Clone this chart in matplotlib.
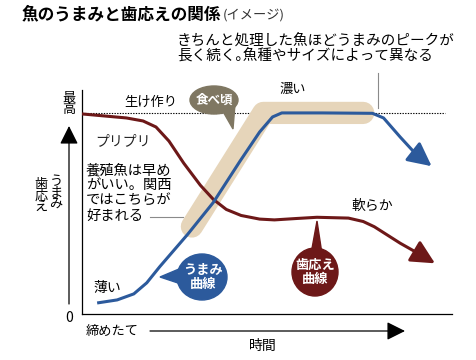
import matplotlib
matplotlib.use("Agg")
import matplotlib.pyplot as plt
from matplotlib.patches import Ellipse, Polygon

plt.rcParams["font.family"] = ["Noto Sans CJK JP", "DejaVu Sans"]

# ---- data (time 0..10, level 0..1, 1 = 最高) ----
umami_t = [0.45, 0.95, 1.4, 1.75, 2.1, 2.85, 3.55, 4.27, 4.8, 5.15, 5.4, 6.5, 7.85, 8.15, 8.6, 9.0]
umami_v = [0.056, 0.07, 0.10, 0.155, 0.235, 0.395, 0.555, 0.76, 0.905, 0.98, 1.0, 1.0, 0.998, 0.975, 0.88, 0.80]
umami_tip = (9.45, 0.735)

texture_t = [0.0, 0.6, 1.2, 1.65, 2.0, 2.35, 2.75, 3.2, 3.55, 3.9, 4.3, 4.8, 5.2, 5.8, 6.35, 7.2, 7.6, 7.9, 8.6, 9.1]
texture_v = [0.995, 0.985, 0.975, 0.96, 0.93, 0.86, 0.75, 0.64, 0.57, 0.52, 0.49, 0.472, 0.468, 0.475, 0.481, 0.477, 0.46, 0.434, 0.352, 0.30]
texture_tip = (9.54, 0.252)

best_t = [2.97, 4.9, 7.6]   # 食べ頃 band
best_v = [0.435, 1.0, 1.0]
peak_v = 1.0

BLUE = "#2c5a9c"
RED = "#6d1818"
TAN = "#e6d5ba"
BROWN = "#7f7762"
GRAY = "#8a8a8a"

W, H = 476, 360
fig = plt.figure(figsize=(W / 100, H / 100), dpi=100)
fig.patch.set_facecolor("white")

# main plot area
ax = fig.add_axes([82 / W, (H - 314) / H, 370 / W, 224 / H])
ax.set_xlim(0, 10)
ax.set_ylim(0, 1.114)
for s in ["top", "right"]:
    ax.spines[s].set_visible(False)
for s in ["left", "bottom"]:
    ax.spines[s].set_linewidth(0.9)
    ax.spines[s].set_color("black")
ax.set_xticks([])
ax.set_yticks([])
ax.set_facecolor("none")

ax.plot([0, 9.81], [peak_v, peak_v], color="black", lw=0.8, ls=(0, (1.2, 1.2)), zorder=1)
ax.plot(best_t, best_v, color=TAN, lw=16, solid_capstyle="round", solid_joinstyle="round", zorder=2)
ax.plot(texture_t, texture_v, color=RED, lw=2.2, solid_joinstyle="round", zorder=3)
ax.plot(umami_t, umami_v, color=BLUE, lw=2.2, solid_joinstyle="round", zorder=4)
ax.annotate("", xy=umami_tip, xytext=(umami_t[-1], umami_v[-1]),
            arrowprops=dict(arrowstyle="-|>,head_length=0.9,head_width=0.45", color=BLUE, lw=2.2,
                            mutation_scale=16, shrinkA=0, shrinkB=0), zorder=5)
ax.annotate("", xy=texture_tip, xytext=(texture_t[-1], texture_v[-1]),
            arrowprops=dict(arrowstyle="-|>,head_length=0.9,head_width=0.45", color=RED, lw=2.2,
                            mutation_scale=16, shrinkA=0, shrinkB=0), zorder=5)

# overlay in pixel coordinates for labels
ov = fig.add_axes([0, 0, 1, 1])
ov.set_xlim(0, W)
ov.set_ylim(H, 0)
ov.axis("off")
ov.set_facecolor("none")

ov.text(22, 14, "魚のうまみと歯応えの関係", fontsize=12, fontweight="bold", ha="left", va="center")
ov.text(223, 15, "(イメージ)", fontsize=9.5, ha="left", va="center", color="#333333")

ov.text(177, 49, "きちんと処理した魚ほどうまみのピークが\n長く続く｡魚種やサイズによって異なる",
        fontsize=10.5, ha="left", va="center", linespacing=1.0)
ov.plot([378, 378], [73, 108], color=GRAY, lw=0.8)

ov.text(293, 89, "濃い", fontsize=9.5, ha="center", va="center")
ov.text(151, 102, "生け作り", fontsize=9.5, ha="center", va="center")
ov.text(123, 141, "プリプリ", fontsize=10, ha="center", va="center", color="#222222")
ov.text(86, 193, "養殖魚は早め\nがいい。関西\nではこちらが\n好まれる", fontsize=10.3,
        ha="left", va="center", linespacing=1.1)
ov.plot([150, 183], [217, 217], color=GRAY, lw=0.8)
ov.text(372, 206, "軟らか", fontsize=10, ha="center", va="center")
ov.text(107, 288, "薄い", fontsize=10, ha="center", va="center")

# y axis labels and arrow
ov.text(69, 104, "最\n高", fontsize=9.5, ha="center", va="center", linespacing=0.85)
ov.text(56, 193, "う\nま\nみ", fontsize=9.5, ha="center", va="center", linespacing=0.85)
ov.text(41, 196, "歯\n応\nえ", fontsize=9.5, ha="center", va="center", linespacing=0.85)
ov.annotate("", xy=(69, 126), xytext=(69, 304),
            arrowprops=dict(arrowstyle="-|>,head_length=0.7,head_width=0.35", color="black", lw=0.9,
                            mutation_scale=16, shrinkA=0, shrinkB=0))
ov.text(69, 318, "0", fontsize=10, ha="center", va="center")

# x axis labels and arrow
ov.text(112, 331, "締めたて", fontsize=9.5, ha="center", va="center")
ov.annotate("", xy=(405, 331), xytext=(150, 331),
            arrowprops=dict(arrowstyle="-|>,head_length=0.7,head_width=0.35", color="black", lw=0.9,
                            mutation_scale=16, shrinkA=0, shrinkB=0))
ov.text(263, 346, "時間", fontsize=10, ha="center", va="center")

# bubbles
ov.add_patch(Polygon([(221, 108), (235, 104), (233, 129)], closed=True, color=BROWN, zorder=6))
ov.add_patch(Ellipse((214, 100), 48, 28, color=BROWN, zorder=6))
ov.text(214, 100, "食べ頃", fontsize=9, fontweight="bold", color="white", ha="center", va="center", zorder=7)

ov.add_patch(Polygon([(179, 269), (181, 284), (160, 277)], closed=True, color=BLUE, zorder=6))
ov.add_patch(Ellipse((202, 277), 50, 46, color=BLUE, zorder=6))
ov.text(203, 277, "うまみ\n曲線", fontsize=9.5, fontweight="bold", color="white", ha="center", va="center",
        linespacing=1.0, zorder=7)

ov.add_patch(Polygon([(311, 254), (322, 254), (317, 221)], closed=True, color=RED, zorder=6))
ov.add_patch(Ellipse((315, 272), 46, 48, color=RED, zorder=6))
ov.text(315, 272, "歯応え\n曲線", fontsize=9.5, fontweight="bold", color="white", ha="center", va="center",
        linespacing=1.0, zorder=7)

fig.savefig("out.png", dpi=100, facecolor="white")
